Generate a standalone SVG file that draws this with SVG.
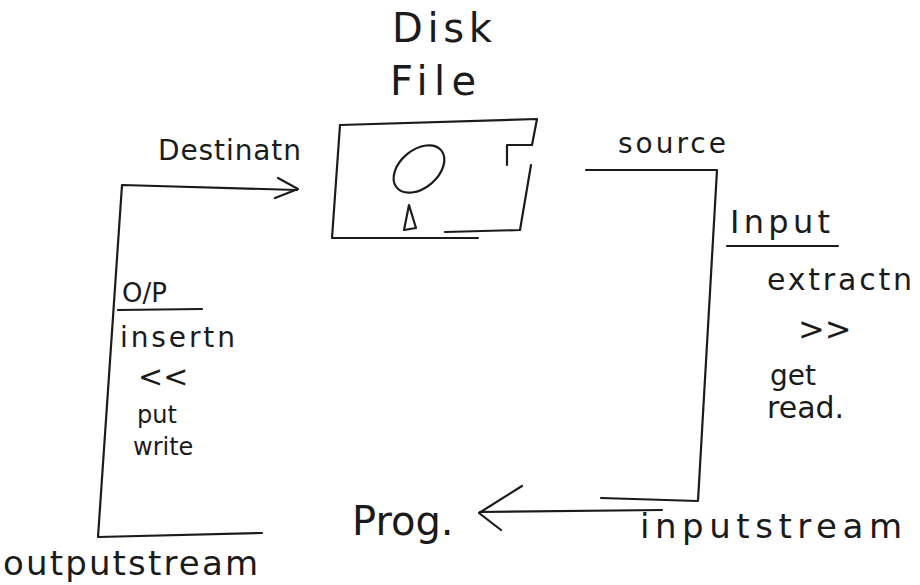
<svg xmlns="http://www.w3.org/2000/svg" width="920" height="585" viewBox="0 0 920 585">
<style>
  .ln { fill: none; stroke: #1b1b1b; stroke-width: 2.2; stroke-linecap: round; stroke-linejoin: round; }
  .tx { font-family: "DejaVu Sans", "Liberation Sans", sans-serif; fill: #1b1b1b; }
</style>
<rect width="920" height="585" fill="#ffffff"/>

<g id="disk-file">
  <text class="tx" x="392" y="42" font-size="40" textLength="100">Disk</text>
  <text class="tx" x="390" y="95" font-size="40" textLength="86">File</text>
  <path class="ln" d="M340,125 L537,119 L532,145 L507,145 L507,165"/>
  <path class="ln" d="M340,125 L332,238 L478,238"/>
  <path class="ln" d="M445,232 L520,230 L531,165"/>
  <ellipse class="ln" cx="419" cy="169" rx="29" ry="19" transform="rotate(-40 419 169)"/>
  <path class="ln" d="M404,230 L409,205 L416,228 Z"/>
</g>

<g id="destination-label">
  <text class="tx" x="158" y="160" font-size="28" textLength="143">Destinatn</text>
</g>

<g id="source-label">
  <text class="tx" x="618" y="153" font-size="28" textLength="108">source</text>
</g>

<g id="output-panel">
  <text class="tx" x="122" y="302" font-size="26">O/P</text>
  <path class="ln" d="M118,310 L202,309"/>
  <text class="tx" x="120" y="347" font-size="28" textLength="115">insertn</text>
  <text class="tx" x="138" y="387" font-size="30">&lt;&lt;</text>
  <text class="tx" x="137" y="423" font-size="24">put</text>
  <text class="tx" x="133" y="455" font-size="24">write</text>
</g>

<g id="input-panel">
  <text class="tx" x="730" y="233" font-size="32" textLength="100">Input</text>
  <path class="ln" d="M727,246 L838,246"/>
  <text class="tx" x="767" y="290" font-size="30" textLength="145">extractn</text>
  <text class="tx" x="798" y="340" font-size="32">&gt;&gt;</text>
  <text class="tx" x="770" y="385" font-size="28">get</text>
  <text class="tx" x="767" y="418" font-size="30">read.</text>
</g>

<g id="program">
  <text class="tx" x="352" y="535" font-size="40">Prog.</text>
</g>

<g id="outputstream-label">
  <text class="tx" x="3" y="575" font-size="34" textLength="255">outputstream</text>
</g>

<g id="inputstream-label">
  <text class="tx" x="640" y="538" font-size="34" textLength="262">inputstream</text>
</g>

<g id="connectors">
  <path class="ln" d="M262,533 L98,537 L122,185 L297,190"/>
  <path class="ln" d="M278,178 L298,189 L275,198"/>
  <path class="ln" d="M586,170 L717,170 L698,501 L601,498"/>
  <path class="ln" d="M662,510 L480,512"/>
  <path class="ln" d="M522,486 L479,513 L501,530"/>
</g>
</svg>
